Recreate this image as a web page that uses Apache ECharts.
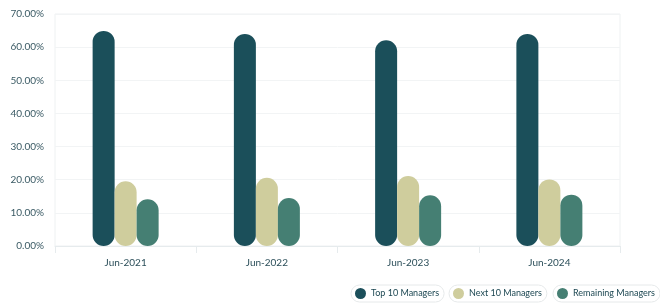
<!DOCTYPE html>
<html><head><meta charset="utf-8">
<script src="https://cdn.jsdelivr.net/npm/echarts@6/dist/echarts.min.js"></script>
<style>html,body{margin:0;padding:0;background:#fff}#c{width:660px;height:305px}</style>
</head><body><div id="c"></div>
<script>
const categories = ['Jun-2021', 'Jun-2022', 'Jun-2023', 'Jun-2024'];
const seriesNames = ['Top 10 Managers', 'Next 10 Managers', 'Remaining Managers'];
const top10 = [64.9, 64.0, 62.1, 64.0];
const next10 = [19.5, 20.6, 21.1, 20.1];
const remaining = [14.1, 14.5, 15.3, 15.5];
const colors = ['#1b4f5a', '#cfcd9d', '#457f73'];
const allData = [top10, next10, remaining];

const font = 'Lato, "Open Sans", sans-serif';
const legendLefts = [351, 449, 553];
const chart = echarts.init(document.getElementById('c'));
chart.setOption({
  animation: false,
  color: colors,
  grid: { left: 55, right: 40, top: 14, bottom: 59, show: true, borderColor: '#eef1f2', borderWidth: 1 },
  legend: seriesNames.map((n, i) => ({
    data: [n], left: legendLefts[i], top: 285, icon: 'circle', itemWidth: 11, itemHeight: 11,
    padding: [3, 5, 3, 4], borderColor: '#e6e9ea', borderWidth: 1, borderRadius: 9,
    textStyle: { fontFamily: font, fontSize: 9, color: '#1c4752' }
  })),
  xAxis: {
    type: 'category', data: categories,
    axisLine: { lineStyle: { color: '#e6ebed' } },
    axisTick: { show: true, length: 7, lineStyle: { color: '#e6ebed' } },
    axisLabel: { fontFamily: font, fontSize: 10, color: '#2c4f5a', margin: 12 }
  },
  yAxis: {
    type: 'value', min: 0, max: 70, interval: 10,
    axisLine: { show: false },
    splitLine: { lineStyle: { color: '#f2f4f5' } },
    axisLabel: { fontFamily: font, fontSize: 10, color: '#3a5a64', margin: 11, formatter: v => v.toFixed(2) + '%' }
  },
  series: seriesNames.map((n, i) => ({
    name: n, type: 'bar', data: allData[i], barWidth: 22, barGap: '0%',
    itemStyle: { color: colors[i], borderRadius: 11 }
  }))
});
</script></body></html>
